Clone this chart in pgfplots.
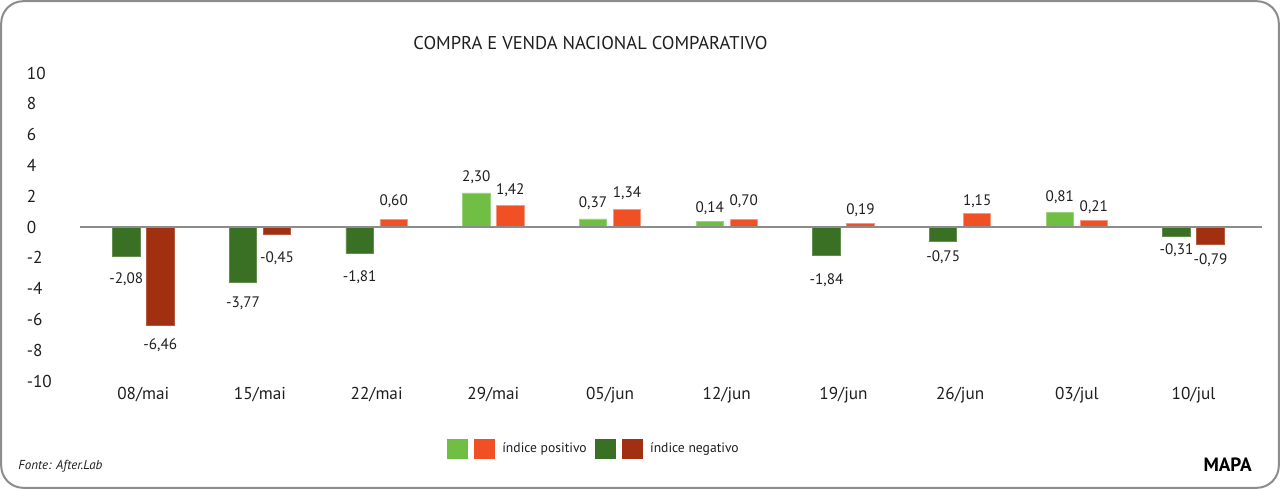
\documentclass[border=0pt]{standalone}
\usepackage{fontspec}
\setmainfont{PT Sans}
\usepackage{pgfplots}
\pgfplotsset{compat=1.18}
\usepackage{pgfplotstable}
\definecolor{lgreen}{RGB}{112,190,68}
\definecolor{orng}{RGB}{240,80,36}
\definecolor{dgreen}{RGB}{58,112,36}
\definecolor{dred}{RGB}{160,48,16}
\definecolor{zline}{RGB}{140,140,140}
\definecolor{txt}{RGB}{30,30,30}

% dy = vertical offset of the value label from the bar end (pt)
% left bars (green): positive / negative
\pgfplotstableread{
x y lab dy
3 2.21 {2,30} 7.7
4 0.52 {0,37} 7.7
5 0.35 {0,14} 6.8
8 0.97 {0,81} 7.2
}\lgpos
\pgfplotstableread{
x y lab dy
0 -1.88 {-2,08} -11.65
1 -3.59 {-3,77} -10.65
2 -1.71 {-1,81} -12.15
6 -1.86 {-1,84} -12.35
7 -0.95 {-0,75} -7.7
9 -0.58 {-0,31} -7.15
}\lgneg
% right bars: positive (orange) / negative (dark red)
\pgfplotstableread{
x y lab dy
2 0.48 {0,60} 9.3
3 1.39 {1,42} 7.65
4 1.13 {1,34} 8.3
5 0.50 {0,70} 9.0
6 0.22 {0,19} 6.65
7 0.89 {1,15} 5.8
8 0.42 {0,21} 6.5
}\rtpos
\pgfplotstableread{
x y lab dy
0 -6.38 {-6,46} -10
1 -0.47 {-0,45} -11.85
9 -1.12 {-0,79} -8
}\rtneg

\begin{document}
\begin{tikzpicture}
\useasboundingbox (0,0) rectangle (640pt,244.5pt);
\draw[rounded corners=11pt, line width=1pt, color=zline] (0.6pt,0.6pt) rectangle (639.4pt,243.9pt);
\node[font=\fontsize{9.25pt}{10pt}\selectfont, text=txt, inner sep=0pt] at (295.25pt,223pt) {COMPRA E VENDA NACIONAL COMPARATIVO};
\node[anchor=west, inner sep=0pt, font=\itshape\fontsize{6.5pt}{7pt}\selectfont, text=txt] at (9pt,11.5pt) {Fonte: After.Lab};
\node[anchor=east, inner sep=0pt, font=\bfseries\fontsize{9.6pt}{10pt}\selectfont, text=black] at (626pt,12pt) {MAPA};
\begin{axis}[
  at={(40pt,54pt)}, anchor=south west,
  scale only axis, width=591.15pt, height=154pt,
  xmin=-0.542, xmax=9.589, ymin=-10, ymax=10,
  axis line style={draw=none}, major tick length=0pt,
  xtick={0,...,9},
  xticklabels={08/mai,15/mai,22/mai,29/mai,05/jun,12/jun,19/jun,26/jun,03/jul,10/jul},
  ytick={-10,-8,-6,-4,-2,0,2,4,6,8,10},
  yticklabels={-10,-8,-6,-4,-2,0,2,4,6,8,10},
  tick label style={font=\fontsize{8.6pt}{10pt}\selectfont, text=txt},
  yticklabel style={anchor=west, inner sep=0pt, xshift=-26.75pt},
  xticklabel style={anchor=north, inner sep=0pt, yshift=-3pt},
  point meta=explicit symbolic,
  nodes near coords={\pgfplotspointmeta},
  nodes near coords style={font=\fontsize{7.6pt}{9pt}\selectfont, text=txt, inner sep=0pt, anchor=center},
  visualization depends on={\thisrow{dy} \as \dy},
  legend style={at={(0.3107,-0.2201)}, anchor=west, draw=none, fill=none,
    inner sep=0pt, outer sep=0pt, font=\fontsize{6.8pt}{8pt}\selectfont, text=txt,
    /tikz/every even column/.append style={column sep=2.2pt}},
  legend columns=2, legend cell align=left,
]
\addplot[ybar, bar width=13.7pt, bar shift=-8.5pt, fill=lgreen, draw=lgreen!70!white, line width=0.4pt,
  every node near coord/.append style={yshift=\dy pt, xshift=-8.5pt}, forget plot]
  table[x=x, y=y, meta=lab] {\lgpos};
\addplot[ybar, bar width=13.7pt, bar shift=-8.5pt, fill=dgreen, draw=dgreen!80!white, line width=0.4pt,
  every node near coord/.append style={yshift=\dy pt, xshift=-8.5pt}, forget plot]
  table[x=x, y=y, meta=lab] {\lgneg};
\addplot[ybar, bar width=13.7pt, bar shift=8.5pt, fill=orng, draw=orng!60!white, line width=0.4pt,
  every node near coord/.append style={yshift=\dy pt, xshift=8.5pt}, forget plot]
  table[x=x, y=y, meta=lab] {\rtpos};
\addplot[ybar, bar width=13.7pt, bar shift=8.5pt, fill=dred, draw=dred!80!white, line width=0.4pt,
  every node near coord/.append style={yshift=\dy pt, xshift=8.5pt}, forget plot]
  table[x=x, y=y, meta=lab] {\rtneg};
\addlegendimage{legend image code/.code={
  \fill[lgreen] (0pt,-4.85pt) rectangle (9.7pt,4.85pt);
  \fill[orng] (13.5pt,-4.85pt) rectangle (23.35pt,4.85pt);
  \path[draw=none, fill=none] (0pt,0pt) rectangle (25.3pt,0.1pt);}}
\addlegendentry{índice positivo}
\addlegendimage{legend image code/.code={
  \fill[dgreen] (0pt,-4.85pt) rectangle (9.7pt,4.85pt);
  \fill[dred] (13.5pt,-4.85pt) rectangle (23.35pt,4.85pt);
  \path[draw=none, fill=none] (0pt,0pt) rectangle (25.3pt,0.1pt);}}
\addlegendentry{índice negativo}
\draw[zline, line width=1pt] (rel axis cs:0,0.5) -- (rel axis cs:1,0.5);
\end{axis}
\end{tikzpicture}
\end{document}
